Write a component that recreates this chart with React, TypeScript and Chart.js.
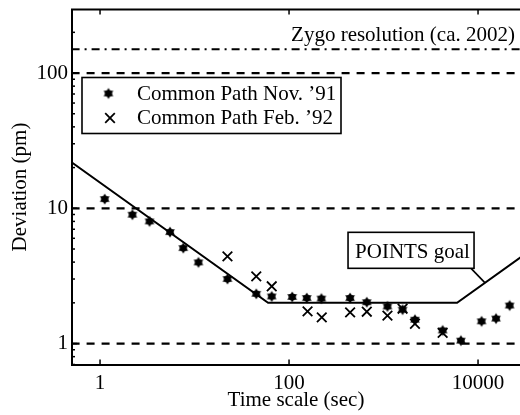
import React, { useEffect, useRef } from 'react';
import { Chart, registerables } from 'chart.js';

Chart.register(...registerables);

// ---- data ----
const novTime = [1.12, 2.2, 3.34, 5.5, 7.6, 11, 22.3, 45, 65.6, 108, 154, 220, 443, 665, 1100, 1590, 2150, 4220, 6590, 10900, 15500, 21600];
const novDev = [11.7, 8.96, 8.0, 6.67, 5.08, 3.98, 3.0, 2.33, 2.23, 2.21, 2.17, 2.15, 2.17, 2.02, 1.88, 1.78, 1.5, 1.25, 1.05, 1.46, 1.53, 1.91];
const febTime = [22.3, 45, 65.6, 157, 222, 443, 665, 1100, 1590, 2150, 4220];
const febDev = [4.41, 3.14, 2.65, 1.73, 1.56, 1.7, 1.72, 1.61, 1.81, 1.4, 1.2];
const goalTime = [0.5, 60, 6000, 30000];
const goalDev = [21.9, 2, 2, 4.47];
const levelLines = [1, 10, 100];
const zygoLevel = 150;
const lineSpan = [0.5, 30000];
const xTickValues = [1, 100, 10000];
const yTickValues = [1, 10, 100];
const yMinorTicks = [0.7, 0.8, 0.9, 2, 3, 4, 5, 6, 7, 8, 9, 20, 30, 40, 50, 60, 70, 80, 90, 200];
const goalLabelTime = 11860;
const seriesLabels = ['Common Path Nov. \u201991', 'Common Path Feb. \u201992'];
const zygoText = 'Zygo resolution (ca. 2002)';
const goalText = 'POINTS goal';

const FONT = "'Liberation Serif', 'Times New Roman', serif";
const FS = 21;

function makeStar(): HTMLCanvasElement {
  const c = document.createElement('canvas');
  c.width = 14;
  c.height = 14;
  const g = c.getContext('2d')!;
  const cx = 7, cy = 7, R = 5.6;
  g.fillStyle = '#000';
  for (const rot of [-Math.PI / 2, Math.PI / 2]) {
    g.beginPath();
    for (let i = 0; i < 3; i++) {
      const a = rot + (i * 2 * Math.PI) / 3;
      const px = cx + R * Math.cos(a);
      const py = cy + R * Math.sin(a);
      if (i === 0) g.moveTo(px, py);
      else g.lineTo(px, py);
    }
    g.closePath();
    g.fill();
  }
  g.beginPath();
  g.arc(cx, cy, R * 0.62, 0, Math.PI * 2);
  g.fill();
  return c;
}

function line(ctx: CanvasRenderingContext2D, x1: number, y1: number, x2: number, y2: number) {
  ctx.beginPath();
  ctx.moveTo(x1, y1);
  ctx.lineTo(x2, y2);
  ctx.stroke();
}

function zeroPad(s: any) {
  s.paddingTop = 0;
  s.paddingBottom = 0;
  s.paddingLeft = 0;
  s.paddingRight = 0;
}

export default function App() {
  const ref = useRef<HTMLCanvasElement>(null);

  useEffect(() => {
    const canvas = ref.current;
    if (!canvas) return;
    const star = makeStar();

    const decor = {
      id: 'decor',
      afterDatasetsDraw(chart: any) {
        const { ctx, chartArea: ca, scales } = chart;
        const xs = scales.x;
        const ys = scales.y;
        ctx.save();
        ctx.strokeStyle = '#000';
        ctx.fillStyle = '#000';
        // top border
        ctx.lineWidth = 2;
        line(ctx, ca.left - 1, ca.top, ca.right, ca.top);
        // inward ticks
        ctx.lineWidth = 1.5;
        for (const v of xTickValues) {
          const px = xs.getPixelForValue(v);
          line(ctx, px, ca.bottom, px, ca.bottom - 5);
          line(ctx, px, ca.top, px, ca.top + 5);
        }
        for (const v of yTickValues) {
          const py = ys.getPixelForValue(v);
          line(ctx, ca.left, py, ca.left + 5, py);
        }
        for (const v of yMinorTicks) {
          const py = ys.getPixelForValue(v);
          line(ctx, ca.left, py, ca.left + 3, py);
        }
        ctx.font = `${FS}px ${FONT}`;
        ctx.textBaseline = 'alphabetic';
        // Zygo label
        ctx.textAlign = 'right';
        ctx.fillText(zygoText, ca.right - 5, ys.getPixelForValue(zygoLevel) - 8);
        // POINTS goal box with leader
        const gx = xs.getPixelForValue(goalLabelTime);
        const gy = ys.getPixelForValue(2 * Math.sqrt(goalLabelTime / 6000));
        const bw = 126, bh = 36;
        const bx = gx - 11 - bw, by = gy - 14.5 - bh;
        ctx.lineWidth = 1.6;
        line(ctx, gx - 14, gy - 14.5, gx, gy);
        ctx.fillStyle = '#fff';
        ctx.fillRect(bx, by, bw, bh);
        ctx.strokeRect(bx, by, bw, bh);
        ctx.fillStyle = '#000';
        ctx.textAlign = 'left';
        ctx.fillText(goalText, bx + 7, by + 25.5);
        // legend
        const lx = ca.left + 10, ly = ca.top + 68, lw = 259, lh = 56;
        ctx.fillStyle = '#fff';
        ctx.fillRect(lx, ly, lw, lh);
        ctx.lineWidth = 1.6;
        ctx.strokeRect(lx, ly, lw, lh);
        ctx.fillStyle = '#000';
        ctx.drawImage(star, lx + 26.5 - 7, ly + 16 - 7);
        ctx.lineWidth = 1.8;
        const cx = lx + 28, cy = ly + 40.5, d = 4.8;
        line(ctx, cx - d, cy - d, cx + d, cy + d);
        line(ctx, cx - d, cy + d, cx + d, cy - d);
        ctx.fillText(chart.data.datasets[0].label, lx + 55, ly + 22);
        ctx.fillText(chart.data.datasets[1].label, lx + 55, ly + 46);
        ctx.restore();
      },
    };

    const refDatasets = levelLines.map((lv) => ({
      label: `level ${lv}`,
      data: lineSpan.map((t) => ({ x: t, y: lv })),
      showLine: true,
      borderColor: '#000',
      borderWidth: 2.2,
      borderDash: [8, 7],
      pointRadius: 0,
    }));

    const chart = new Chart(canvas, {
      type: 'scatter',
      data: {
        datasets: [
          {
            label: seriesLabels[0],
            data: novTime.map((t, i) => ({ x: t, y: novDev[i] })),
            pointStyle: star as any,
            pointRadius: 5,
            showLine: false,
          },
          {
            label: seriesLabels[1],
            data: febTime.map((t, i) => ({ x: t, y: febDev[i] })),
            pointStyle: 'crossRot',
            pointRadius: 6.8,
            borderColor: '#000',
            borderWidth: 1.8,
            showLine: false,
          },
          {
            label: 'goal',
            data: goalTime.map((t, i) => ({ x: t, y: goalDev[i] })),
            showLine: true,
            borderColor: '#000',
            borderWidth: 2,
            pointRadius: 0,
          },
          ...refDatasets,
          {
            label: 'zygo',
            data: lineSpan.map((t) => ({ x: t, y: zygoLevel })),
            showLine: true,
            borderColor: '#000',
            borderWidth: 2,
            borderDash: [8, 5, 2, 5],
            pointRadius: 0,
          },
        ] as any,
      },
      options: {
        responsive: false,
        animation: false,
        devicePixelRatio: 1,
        layout: { autoPadding: false, padding: { top: 9.5, right: 0, left: 0, bottom: 0 } },
        plugins: { legend: { display: false }, tooltip: { enabled: false } },
        scales: {
          x: {
            type: 'logarithmic',
            min: 0.505,
            max: 27800,
            afterFit: (s: any) => {
              s.height = 50.5;
              zeroPad(s);
            },
            afterBuildTicks: (s: any) => {
              s.ticks = xTickValues.map((v) => ({ value: v }));
            },
            ticks: {
              autoSkip: false,
              maxRotation: 0,
              padding: 6,
              color: '#000',
              font: { family: FONT, size: FS },
              callback: (v: any) => String(v),
            },
            grid: { drawOnChartArea: false, drawTicks: false },
            border: { display: true, color: '#000', width: 2 },
            title: {
              display: true,
              text: 'Time scale (sec)',
              color: '#000',
              font: { family: FONT, size: FS },
              padding: { top: 0, bottom: 2 },
            },
          },
          y: {
            type: 'logarithmic',
            min: 0.7,
            max: 295,
            afterFit: (s: any) => {
              s.width = 72;
              zeroPad(s);
            },
            afterBuildTicks: (s: any) => {
              s.ticks = yTickValues.map((v) => ({ value: v }));
            },
            ticks: {
              autoSkip: false,
              padding: 4,
              color: '#000',
              font: { family: FONT, size: FS },
              callback: (v: any) => String(v),
            },
            grid: { drawOnChartArea: false, drawTicks: false },
            border: { display: true, color: '#000', width: 2 },
            title: {
              display: true,
              text: 'Deviation (pm)',
              color: '#000',
              font: { family: FONT, size: FS },
              padding: { top: 8, bottom: 0 },
            },
          },
        },
      } as any,
      plugins: [decor],
    });
    return () => chart.destroy();
  }, []);

  return (
    <div style={{ position: 'absolute', left: 0, top: 0, width: 520, height: 415, background: '#fff' }}>
      <canvas ref={ref} width={520} height={415} style={{ display: 'block' }} />
    </div>
  );
}
